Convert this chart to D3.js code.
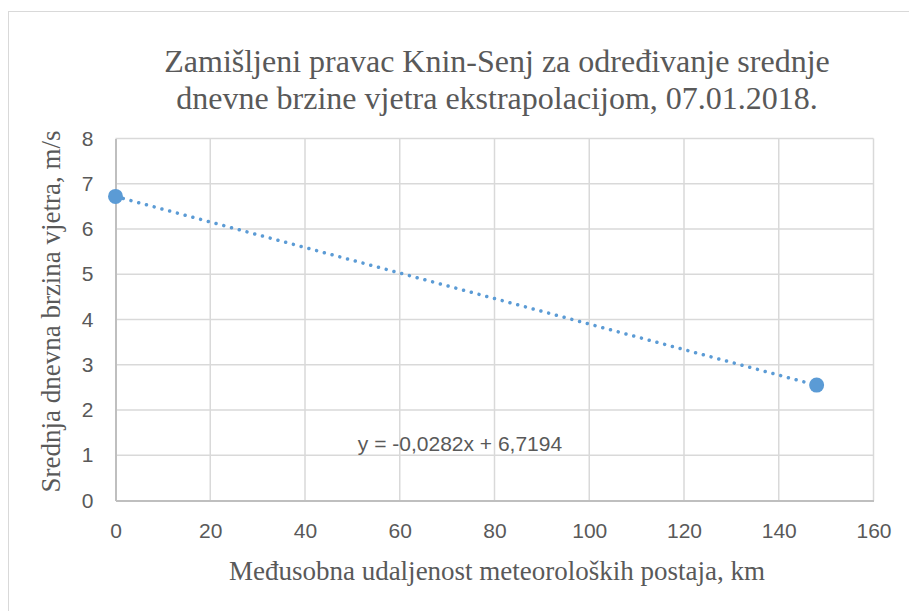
<!DOCTYPE html>
<html><head><meta charset="utf-8">
<script src="https://cdn.jsdelivr.net/npm/d3@7"></script>
<style>body{margin:0;background:#fff}svg{display:block}</style>
</head><body>
<svg id="c" width="909" height="611"></svg>
<script>
const distances = [0, 148];
const speeds = [6.72, 2.55];
const xTicks = [0, 20, 40, 60, 80, 100, 120, 140, 160];
const yTicks = [0, 1, 2, 3, 4, 5, 6, 7, 8];
const trendSlope = -0.0282;
const trendIntercept = 6.7194;
const titleLines = ["Zamišljeni pravac Knin-Senj za određivanje srednje", "dnevne brzine vjetra ekstrapolacijom, 07.01.2018."];
const xTitle = "Međusobna udaljenost meteoroloških postaja, km";
const yTitle = "Srednja dnevna brzina vjetra, m/s";
const eqLabel = "y = -0,0282x + 6,7194";

const svg = d3.select("#c");
const W = 909, H = 611;
svg.append("rect").attr("x", 8.5).attr("y", 11.5).attr("width", W + 10).attr("height", H + 10)
  .attr("fill", "#fff").attr("stroke", "#d9d9d9").attr("stroke-width", 1);

const x = d3.scaleLinear().domain([0, 160]).range([115.5, 873.5]);
const y = d3.scaleLinear().domain([0, 8]).range([500.5, 138.5]);

const sans = "'Liberation Sans', Arial, sans-serif";
const serif = "'Liberation Serif', 'Times New Roman', serif";
const txt = "#595959";

// gridlines
svg.append("g").selectAll("line").data(yTicks.filter(d => d > 0)).join("line")
  .attr("x1", x(0)).attr("x2", x(160)).attr("y1", d => y(d)).attr("y2", d => y(d))
  .attr("stroke", "#d9d9d9").attr("stroke-width", 1.5);
svg.append("g").selectAll("line").data(xTicks.filter(d => d > 0)).join("line")
  .attr("y1", y(0)).attr("y2", y(8)).attr("x1", d => x(d)).attr("x2", d => x(d))
  .attr("stroke", "#d9d9d9").attr("stroke-width", 1.5);

// axes
const xAxis = svg.append("g").attr("transform", `translate(0,${y(0)})`)
  .call(d3.axisBottom(x).tickValues(xTicks).tickSize(0).tickPadding(23));
const yAxis = svg.append("g").attr("transform", `translate(${x(0)},0)`)
  .call(d3.axisLeft(y).tickValues(yTicks).tickSize(0).tickPadding(22));
[xAxis, yAxis].forEach(a => {
  a.select(".domain").attr("stroke", "#bfbfbf").attr("stroke-width", 2);
  a.selectAll("text").attr("fill", txt).style("font-family", sans).style("font-size", "21px");
});

// trendline
const line = d3.line().x(d => x(d)).y(d => y(trendIntercept + trendSlope * d));
svg.append("path").datum([distances[0], distances[distances.length - 1]])
  .attr("d", line).attr("fill", "none").attr("stroke", "#5b9bd5")
  .attr("stroke-width", 3.5).attr("stroke-linecap", "round").attr("stroke-dasharray", "0.01 8");

// points
svg.append("g").selectAll("circle").data(distances).join("circle")
  .attr("cx", d => x(d)).attr("cy", (d, i) => y(speeds[i])).attr("r", 7.5).attr("fill", "#5b9bd5");

// equation
svg.append("text").attr("x", 460).attr("y", 451).attr("text-anchor", "middle")
  .attr("fill", txt).style("font-family", sans).style("font-size", "21px").text(eqLabel);

// titles
svg.append("g").selectAll("text").data(titleLines).join("text")
  .attr("x", 497).attr("y", (d, i) => 72 + i * 37).attr("text-anchor", "middle")
  .attr("fill", txt).style("font-family", serif).style("font-size", "32px").text(d => d);
svg.append("text").attr("x", 497).attr("y", 580).attr("text-anchor", "middle")
  .attr("fill", txt).style("font-family", serif).style("font-size", "27px").text(xTitle);
svg.append("text").attr("transform", `translate(60,${y(4) - 8}) rotate(-90)`).attr("text-anchor", "middle")
  .attr("fill", txt).style("font-family", serif).style("font-size", "27px").text(yTitle);
</script>
</body></html>
